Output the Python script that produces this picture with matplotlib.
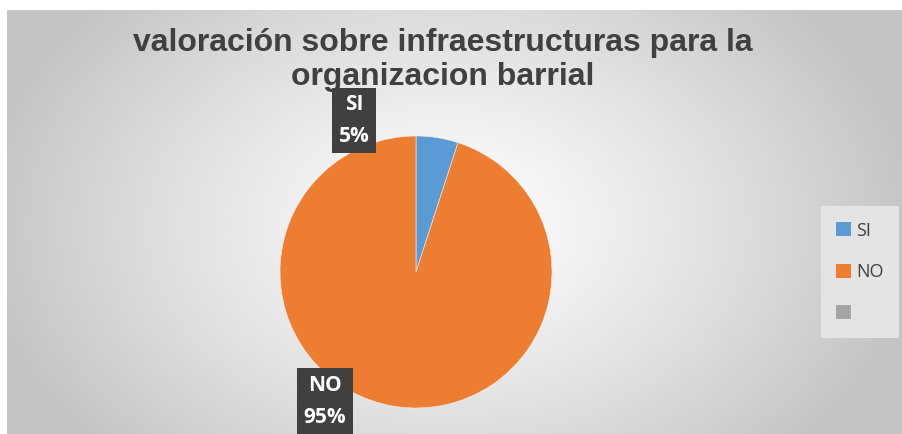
import numpy as np
import matplotlib
matplotlib.use('Agg')
from matplotlib import pyplot as plt
from matplotlib.patches import Patch

# data
categorias = ['SI', 'NO', '']
valores = [5, 95, 0]
colores = ['#5b9bd5', '#ed7d31', '#a5a5a5']
titulo = 'valoración sobre infraestructuras para la\norganizacion barrial'

W, H = 903, 434
fig = plt.figure(figsize=(W / 100, H / 100), dpi=100)
fig.patch.set_facecolor('white')

# fondo con degradado radial (zona del grafico empieza en x=7, y=10)
bg = fig.add_axes([7 / W, 0, 1 - 7 / W, 1 - 10 / H])
bg.set_axis_off()
yy, xx = np.mgrid[0:424, 0:896]
cx, cy = 440, 215
d = np.sqrt(((xx - cx) / 470.0) ** 2 + ((yy - cy) / 330.0) ** 2)
d = np.clip(d, 0, 1) ** 1.2
g = 1.0 - (1.0 - 0.77) * d
bg.imshow(np.dstack([g, g, g]), aspect='auto', extent=[0, 1, 0, 1])

# pastel
ax = fig.add_axes([280 / W, 26 / H, 272 / W, 272 / H])
solo = [v for v in valores if v > 0]
ax.pie(solo, colors=colores[:len(solo)], startangle=90, counterclock=False,
       radius=1, wedgeprops=dict(linewidth=0.4, edgecolor='#f0f0f0'))
ax.set_xlim(-1, 1)
ax.set_ylim(-1, 1)
ax.set_aspect('equal')

etiquetas = [(-0.456, 1.114), (-0.669, -0.95)]
total = sum(valores)
for (x, y), cat, v in zip(etiquetas, categorias, valores):
    ax.text(x, y, '%s\n%d%%' % (cat, round(100 * v / total)),
            ha='center', va='center', color='white', fontsize=15,
            fontweight='bold', family='Open Sans', linespacing=1.7,
            bbox=dict(boxstyle='square,pad=0.3', facecolor='#404040',
                      edgecolor='none'),
            clip_on=False, zorder=5)

# titulo
fig.text(443 / W, 1 - 60 / H, titulo, ha='center', va='center',
         fontsize=23, fontweight='bold', family='Liberation Sans',
         color='#404040', linespacing=1.15)

# leyenda
handles = [Patch(facecolor=c, edgecolor='none') for c in colores]
leg = fig.legend(handles, categorias, loc='center',
                 bbox_to_anchor=(860 / W, 1 - 272 / H), frameon=True,
                 prop={'family': 'Open Sans', 'size': 13},
                 handlelength=0.8, handleheight=0.8, handletextpad=0.3,
                 labelspacing=1.3, borderpad=0.85, fancybox=False)
leg.get_frame().set_facecolor('#e4e4e4')
leg.get_frame().set_edgecolor('none')
leg.get_frame().set_alpha(1)
for t in leg.get_texts():
    t.set_color('#404040')

plt.savefig('out.png', dpi=100)
